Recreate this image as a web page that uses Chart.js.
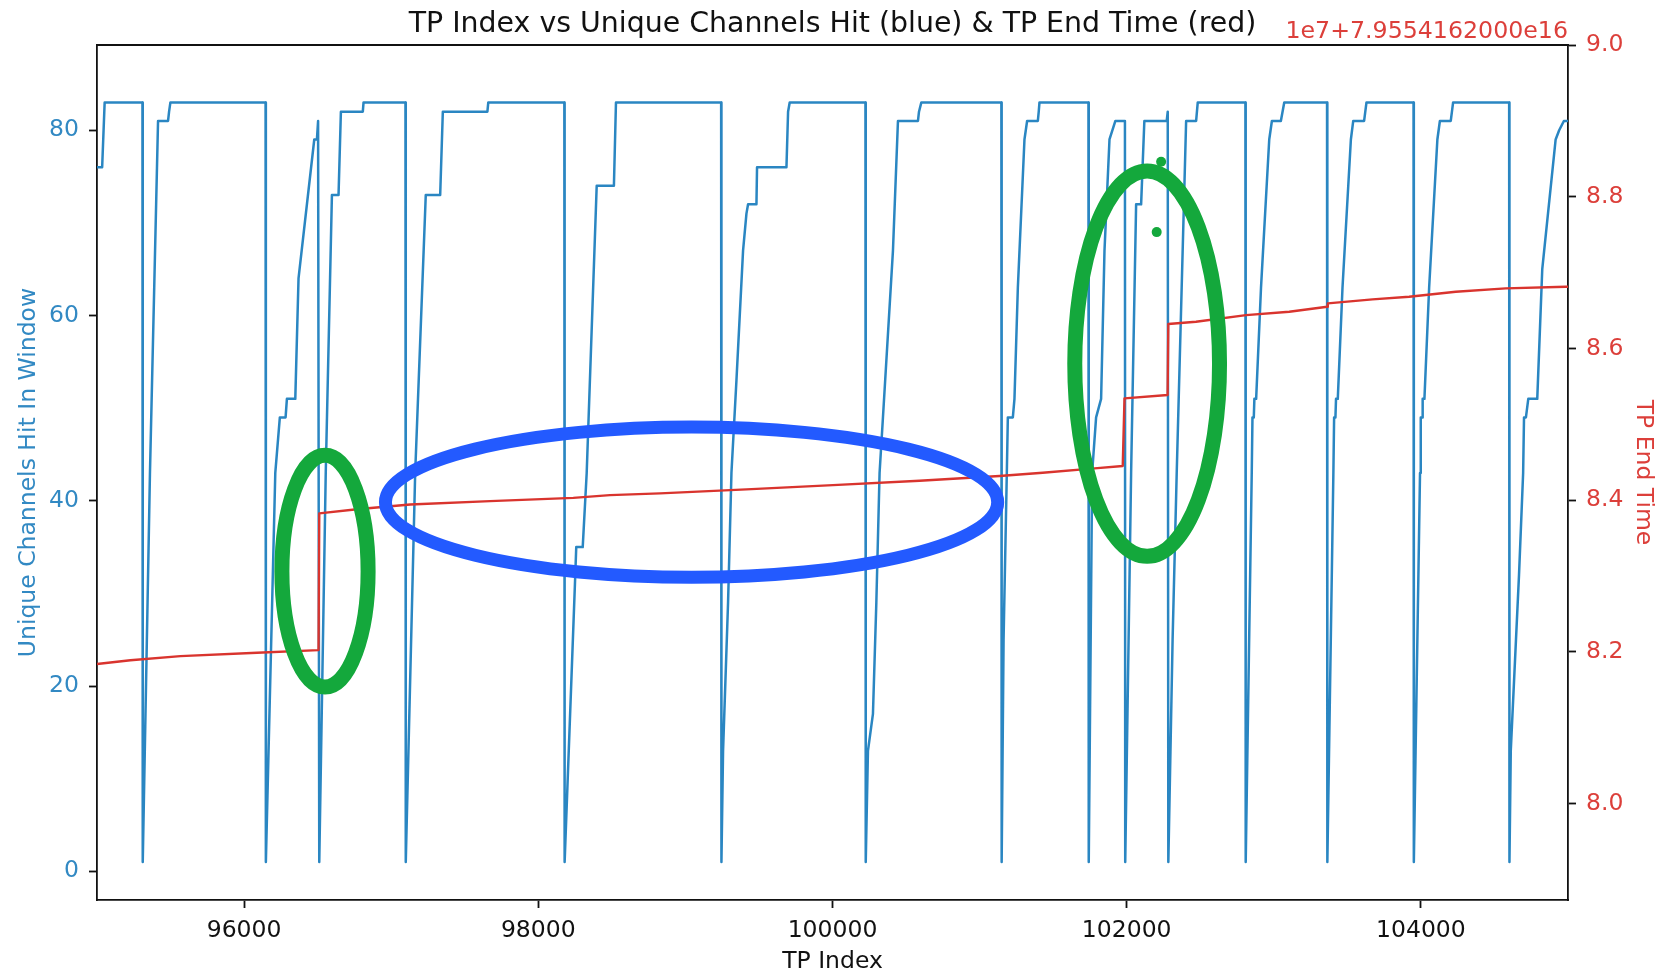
<!DOCTYPE html>
<html>
<head>
<meta charset="utf-8">
<title>TP Index vs Unique Channels Hit</title>
<script src="https://cdn.jsdelivr.net/npm/chart.js@4.4.1/dist/chart.umd.min.js"></script>
<style>
  html, body { margin: 0; padding: 0; background: #fff; }
  #wrap { width: 1676px; height: 971px; }
</style>
</head>
<body>
<div id="wrap"><canvas id="tpChart"></canvas></div>
<script>
// tick values shown on the three axes
const xTicks = [96000, 98000, 100000, 102000, 104000];
const hitTicks = [0, 20, 40, 60, 80];
const timeTicks = [8.0, 8.2, 8.4, 8.6, 8.8, 9.0];
const timeOffsetLabel = '1e7+7.9554162000e16';
const chartTitle = 'TP Index vs Unique Channels Hit (blue) & TP End Time (red)';

// blue series: TP index -> unique channels hit in window (one line per reset cycle)
const tpIndex = [
  95000, 95035, 95052, 95309,
  95311, 95360, 95415, 95483, 95490, 95499, 96146,
  96148, 96212, 96243, 96282, 96291, 96348, 96370, 96477, 96495, 96503, 96507,
  96511, 96555, 96597, 96642, 96658, 96807, 96812, 97097,
  97099, 97163, 97235, 97333, 97351, 97654, 97660, 98177,
  98179, 98249, 98258, 98302, 98329, 98397, 98514, 98528, 99243,
  99245, 99256, 99290, 99313, 99347, 99392, 99415, 99426, 99483, 99487, 99687, 99698, 99709, 100224,
  100226, 100241, 100275, 100298, 100320, 100343, 100411, 100445, 100581, 100588, 100604, 101148,
  101150, 101163, 101185, 101192, 101226, 101237, 101260, 101305, 101323, 101396, 101402, 101407, 101740,
  101742, 101765, 101792, 101826, 101849, 101883, 101923, 101988,
  101990, 102030, 102064, 102098, 102120, 102272, 102279,
  102283, 102312, 102340, 102404, 102472, 102483, 102807,
  102809, 102850, 102855, 102864, 102868, 102880, 102913, 102969, 102987, 103048, 103071, 103362,
  103364, 103405, 103410, 103419, 103423, 103435, 103467, 103524, 103540, 103614, 103630, 103950,
  103952, 103994, 103999, 104008, 104012, 104024, 104056, 104112, 104129, 104203, 104219, 104600,
  104602, 104611, 104667, 104695, 104701, 104714, 104730, 104791, 104825, 104916, 104940, 104972, 105000
];
const channelsHit = [
  76, 76, 83, 83,
  1, 43, 81, 81, 82, 83, 83,
  1, 43, 49, 49, 51, 51, 64, 79, 79, 81, 81,
  1, 43, 73, 73, 82, 82, 83, 83,
  1, 43, 73, 73, 82, 82, 83, 83,
  1, 31, 35, 35, 43, 74, 74, 83, 83,
  1, 13, 29, 43, 53, 67, 71, 72, 72, 76, 76, 82, 83, 83,
  1, 13, 17, 29, 43, 49, 67, 81, 81, 82, 83, 83,
  1, 25, 43, 49, 49, 51, 63, 79, 81, 81, 82, 83, 83,
  1, 43, 49, 51, 67, 79, 81, 81,
  1, 43, 72, 72, 81, 81, 82,
  1, 25, 43, 81, 81, 83, 83,
  1, 43, 49, 49, 51, 51, 63, 79, 81, 81, 83, 83,
  1, 43, 49, 49, 51, 51, 63, 79, 81, 81, 83, 83,
  1, 43, 49, 49, 51, 51, 63, 79, 81, 81, 83, 83,
  1, 13, 32, 43, 49, 49, 51, 51, 65, 79, 80, 81, 81
];

// red series: TP end time, in units of 1e7 above the 7.9554162e16 offset
const endIndex = [
  95000, 95227, 95567, 96088, 96506,
  96511, 96767, 97129, 97672, 98238, 98487, 98827, 99415, 100003, 100592, 101135, 101429, 101781, 101973,
  101985, 102278,
  102283, 102471, 102811, 103105, 103363,
  103367, 103671, 103920, 104237, 104577, 104984, 105000
];
const endTime = [
  8.184, 8.189, 8.1945, 8.199, 8.2024,
  8.3826, 8.388, 8.3944, 8.3988, 8.403, 8.4067, 8.409, 8.4142, 8.4199, 8.4256, 8.4318, 8.4361, 8.442, 8.445,
  8.5342, 8.5386,
  8.6322, 8.6352, 8.644, 8.6484, 8.655,
  8.6594, 8.6647, 8.6682, 8.6747, 8.6792, 8.6813, 8.6813
];

// hand-drawn markups, placed in data units (x = TP index, y = channels hit)
const markups = [
  { shape: 'ellipse', x: 99042, y: 39.85, rx: 2081, ry: 8.1, color: '#235aff', width: 13 },
  { shape: 'ellipse', x: 96550, y: 32.4, rx: 293, ry: 12.5, color: '#14a83c', width: 15 },
  { shape: 'ellipse', x: 102139, y: 54.8, rx: 492, ry: 20.8, color: '#14a83c', width: 15 },
  { shape: 'dot', x: 102234, y: 76.6, color: '#14a83c', width: 5 },
  { shape: 'dot', x: 102204, y: 69.0, color: '#14a83c', width: 5 }
];

const blueLine = '#2a86c2';
const blueText = '#3289c3';
const redLine = '#d9342e';
const redText = '#dc3f3a';
const fontFamily = '"DejaVu Sans", sans-serif';
const tickFont = { family: fontFamily, size: 23.5 };
const labelFont = { family: fontFamily, size: 23.5, lineHeight: 1 };
const frame = { display: true, color: '#111', width: 1.8 };
const tickMarks = { drawOnChartArea: false, drawTicks: true, tickLength: 8, tickWidth: 1.8, tickColor: '#111' };

const decorations = {
  id: 'decorations',
  afterDatasetsDraw(chart) {
    const { ctx, scales } = chart;
    const sx = scales.x, sy = scales.yHits;
    ctx.save();
    markups.forEach(m => {
      const px = sx.getPixelForValue(m.x);
      const py = sy.getPixelForValue(m.y);
      ctx.beginPath();
      if (m.shape === 'ellipse') {
        const rx = Math.abs(sx.getPixelForValue(m.x + m.rx) - px);
        const ry = Math.abs(sy.getPixelForValue(m.y + m.ry) - py);
        ctx.ellipse(px, py, rx, ry, 0, 0, Math.PI * 2);
        ctx.lineWidth = m.width;
        ctx.strokeStyle = m.color;
        ctx.stroke();
      } else {
        ctx.arc(px, py, m.width, 0, Math.PI * 2);
        ctx.fillStyle = m.color;
        ctx.fill();
      }
    });
    ctx.restore();
  },
  afterDraw(chart) {
    const { ctx, chartArea: a } = chart;
    ctx.save();
    // top spine
    ctx.strokeStyle = '#111';
    ctx.lineWidth = 1.8;
    ctx.beginPath();
    ctx.moveTo(a.left - 0.9, a.top);
    ctx.lineTo(a.right + 0.9, a.top);
    ctx.stroke();
    // title
    ctx.fillStyle = '#111';
    ctx.textAlign = 'center';
    ctx.textBaseline = 'alphabetic';
    ctx.font = '28.4px ' + fontFamily;
    ctx.fillText(chartTitle, (a.left + a.right) / 2, 31.7);
    // offset text of the right axis
    ctx.fillStyle = redText;
    ctx.textAlign = 'right';
    ctx.font = '23.7px ' + fontFamily;
    ctx.fillText(timeOffsetLabel, a.right, 38.3);
    ctx.restore();
  }
};

new Chart(document.getElementById('tpChart'), {
  type: 'line',
  data: {
    datasets: [
      {
        label: 'TP End Time',
        data: endIndex.map((x, i) => ({ x: x, y: endTime[i] })),
        yAxisID: 'yTime',
        borderColor: redLine,
        borderWidth: 2.4,
        pointRadius: 0,
        order: 1
      },
      {
        label: 'Unique Channels Hit In Window',
        data: tpIndex.map((x, i) => ({ x: x, y: channelsHit[i] })),
        yAxisID: 'yHits',
        borderColor: blueLine,
        borderWidth: 2.5,
        pointRadius: 0,
        order: 2
      }
    ]
  },
  options: {
    responsive: true,
    maintainAspectRatio: false,
    animation: false,
    layout: { padding: { top: 45, left: 0, right: 0, bottom: 0 } },
    elements: { line: { tension: 0, borderJoinStyle: 'round' } },
    plugins: {
      legend: { display: false },
      tooltip: { enabled: false },
      title: { display: false }
    },
    scales: {
      x: {
        type: 'linear',
        position: 'bottom',
        min: 95000,
        max: 105000,
        afterBuildTicks: s => { s.ticks = xTicks.map(v => ({ value: v })); },
        afterFit: s => { s.height = 71; },
        ticks: { color: '#111', font: tickFont, padding: 9, autoSkip: false, maxRotation: 0, callback: v => String(v) },
        grid: tickMarks,
        border: frame,
        title: { display: true, text: 'TP Index', color: '#111', font: labelFont, padding: { top: 0, bottom: -3 } }
      },
      yHits: {
        type: 'linear',
        position: 'left',
        min: -3.1,
        max: 89.2,
        afterBuildTicks: s => { s.ticks = hitTicks.map(v => ({ value: v })); },
        afterFit: s => { s.width = 97; },
        ticks: { color: blueText, font: tickFont, padding: 10, callback: v => String(v) },
        grid: tickMarks,
        border: frame,
        title: { display: true, text: 'Unique Channels Hit In Window', color: blueText, font: labelFont, padding: { top: 17, bottom: 0 } }
      },
      yTime: {
        type: 'linear',
        position: 'right',
        min: 7.873,
        max: 9.0,
        afterBuildTicks: s => { s.ticks = timeTicks.map(v => ({ value: v })); },
        afterFit: s => { s.width = 108; },
        ticks: { color: redText, font: tickFont, padding: 10, callback: v => v.toFixed(1) },
        grid: tickMarks,
        border: frame,
        title: { display: true, text: 'TP End Time', color: redText, font: labelFont, padding: { top: 21.5, bottom: 0 } }
      }
    }
  },
  plugins: [decorations]
});
</script>
</body>
</html>
